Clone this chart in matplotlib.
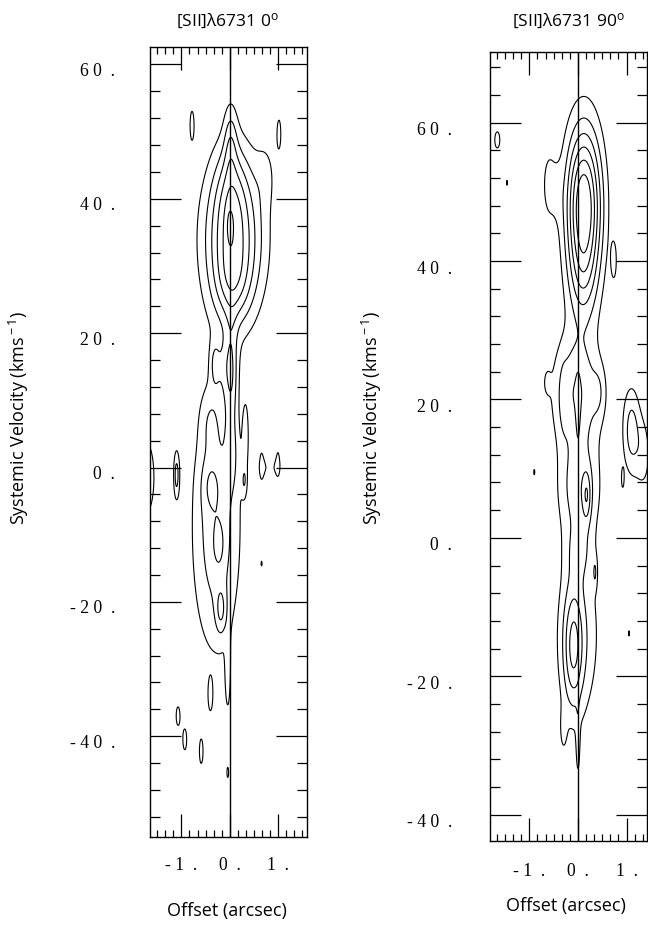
import numpy as np
import matplotlib
matplotlib.use('Agg')
import matplotlib.pyplot as plt
from matplotlib.ticker import MultipleLocator
from matplotlib import transforms

plt.rcParams['font.family'] = ['Open Sans', 'DejaVu Sans']
plt.rcParams['mathtext.fontset'] = 'custom'
plt.rcParams['mathtext.rm'] = 'Open Sans'
plt.rcParams['mathtext.it'] = 'Open Sans:italic'

# contour levels (arbitrary flux units)
levels = [1, 2, 3, 4, 5, 6]

# emission components: offset, velocity, widths, peak
pa0_x0  = [0.08, 0.05, 0.02, 0.00, 0.05, 0.75, 0.03, -0.17, -0.32, 0.05, -0.40,
           -0.28, -0.40, -0.22, -0.18, -0.04, 0.33, 0.30, 0.66, 1.00, 0.83, -1.72,
           -1.10, 1.72, 0.66, -1.07, -0.93, -0.59, -0.40, -0.04, -0.78, 1.02]
pa0_v0  = [34.0, 42.0, 49.0, 36.0, 27.0, 44.0, 14.0, 15.0, 15.5, 2.0, 7.0,
           -9.0, -2.5, -11.6, -21.3, -31.0, 5.0, -2.0, 0.5, 1.2, 0.0, -1.5,
           -1.1, 0.0, -14.3, -37.0, -40.5, -42.3, -34.0, -45.4, 51.0, 49.8]
pa0_sx  = [0.42, 0.24, 0.10, 0.05, 0.25, 0.15, 0.10, 0.12, 0.07, 0.10, 0.15,
           0.35, 0.14, 0.09, 0.08, 0.04, 0.05, 0.04, 0.05, 0.05, 0.15, 0.12,
           0.045, 0.10, 0.02, 0.05, 0.05, 0.045, 0.04, 0.025, 0.05, 0.045]
pa0_sv  = [8.0, 5.0, 4.0, 2.0, 4.0, 3.5, 5.5, 3.0, 2.5, 4.0, 3.5,
           13.0, 2.8, 2.6, 2.5, 4.0, 4.0, 1.6, 3.5, 3.5, 1.2, 4.0,
           2.6, 4.0, 0.7, 1.8, 2.0, 2.2, 2.0, 1.1, 2.6, 2.4]
pa0_amp = [5.0, 1.6, 1.6, 0.8, 1.6, 0.8, 2.4, 1.1, 1.15, 1.2, 1.0,
           2.7, 1.0, 0.8, 1.75, 1.3, 1.3, 1.3, 0.95, 0.95, 0.9, 2.2,
           2.3, 1.5, 1.05, 1.3, 1.3, 1.3, 1.3, 1.2, 1.3, 1.3]

# emission components
pa90_x0  = [0.12, 0.10, -0.60, -0.42, -0.02, 0.02, 0.02, -0.10, 0.00, 0.00, -0.30,
            0.42, -0.64, 0.18, -0.30, 0.00, 0.35, 1.10, 1.35, 0.92, -0.90, -1.66,
            -1.46, 0.74, 1.05, 1.58]
pa90_v0  = [48.0, 37.0, 51.0, 50.0, 21.0, 7.0, -2.0, -16.0, -14.0, 18.0, 20.0,
            21.0, 22.5, 6.0, -28.0, -30.0, -5.0, 15.5, 12.0, 8.5, 9.5, 57.5,
            51.3, 40.0, -13.8, -37.0]
pa90_sx  = [0.26, 0.22, 0.11, 0.08, 0.35, 0.30, 0.20, 0.14, 0.32, 0.03, 0.06,
            0.10, 0.06, 0.06, 0.06, 0.03, 0.03, 0.13, 0.12, 0.025, 0.02, 0.07,
            0.012, 0.05, 0.02, 0.08]
pa90_sv  = [8.0, 5.0, 4.0, 3.0, 6.0, 5.0, 3.0, 6.0, 9.0, 3.5, 3.5,
            2.5, 1.5, 2.5, 2.5, 3.5, 1.5, 4.5, 4.0, 1.3, 0.7, 1.6,
            0.8, 2.4, 0.8, 2.5]
pa90_amp = [7.0, 1.6, 1.3, 0.45, 3.0, 2.4, 1.2, 2.6, 2.0, 0.9, 0.7,
            1.0, 0.7, 1.8, 0.9, 1.2, 1.3, 2.4, 1.3, 1.2, 1.1, 1.3,
            1.1, 1.3, 1.1, 1.4]

vel_ticks = [-40, -20, 0, 20, 40, 60]
vel_labels = ['- 4 0  .', '- 2 0  .', '0  .', '2 0  .', '4 0  .', '6 0  .']
off_ticks = [-1, 0, 1]
off_labels = ['- 1  .', '0  .', '1  .']

X, V = np.meshgrid(np.linspace(-2.2, 2.2, 881), np.linspace(-65, 80, 1451))


def pv_map(x0, v0, sx, sv, amp):
    z = np.zeros_like(X)
    for a, b, c, d, e in zip(x0, v0, sx, sv, amp):
        z += e*np.exp(-0.5*((X-a)/c)**2 - 0.5*((V-b)/d)**2)
    return z


fig = plt.figure(figsize=(6.48, 9.25), dpi=100)

panels = [
    dict(rect=[150/648, 1-837/925, 157/648, 790/925], xlim=(-1.65, 1.60), ylim=(-55.0, 62.6),
         comps=(pa0_x0, pa0_v0, pa0_sx, pa0_sv, pa0_amp), title='[SII]λ6731 0$^{\\rm o}$',
         ylab_x=19, ylab_dx=35, ylab_dy=7, xlab_dy=29, tx=227, ox=227, oy=911),
    dict(rect=[490/648, 1-841/925, 157/648, 789/925], xlim=(-1.81, 1.42), ylim=(-43.8, 70.2),
         comps=(pa90_x0, pa90_v0, pa90_sx, pa90_sv, pa90_amp), title='[SII]λ6731 90$^{\\rm o}$',
         ylab_x=372, ylab_dx=38, ylab_dy=8, xlab_dy=30, tx=568, ox=566, oy=906),
]

for p in panels:
    ax = fig.add_axes(p['rect'])
    Z = pv_map(*p['comps'])
    ax.contour(X, V, Z, levels=levels, colors='k', linewidths=0.8)
    ax.axvline(0., color='k', lw=1.0)
    ax.set_xlim(*p['xlim'])
    ax.set_ylim(*p['ylim'])
    ax.xaxis.set_major_locator(MultipleLocator(1))
    ax.xaxis.set_minor_locator(MultipleLocator(1/6))
    ax.yaxis.set_major_locator(MultipleLocator(20))
    ax.yaxis.set_minor_locator(MultipleLocator(4))
    ax.tick_params(which='both', direction='in', top=True, right=True, color='k',
                   labelbottom=False, labelleft=False)
    ax.tick_params(axis='x', which='major', length=16.5, width=0.9)
    ax.tick_params(axis='x', which='minor', length=4.8, width=0.9)
    ax.tick_params(axis='y', which='major', length=22.5, width=0.9)
    ax.tick_params(axis='y', which='minor', length=7.2, width=0.9)
    for s in ax.spines.values():
        s.set_linewidth(1.0)

    ytr = transforms.blended_transform_factory(ax.transAxes, ax.transData) + \
        transforms.ScaledTranslation(-p['ylab_dx']/100, -p['ylab_dy']/100, fig.dpi_scale_trans)
    for v, lab in zip(vel_ticks, vel_labels):
        ax.text(0, v, lab, transform=ytr, ha='right', va='center',
                family='Liberation Serif', fontsize=12.7)
    xtr = transforms.blended_transform_factory(ax.transData, ax.transAxes) + \
        transforms.ScaledTranslation(0, -p['xlab_dy']/100, fig.dpi_scale_trans)
    for x, lab in zip(off_ticks, off_labels):
        ax.text(x, 0, lab, transform=xtr, ha='center', va='center',
                family='Liberation Serif', fontsize=12.7)

    fig.text(p['tx']/648, 1 - 21/925, p['title'], ha='center', va='center', fontsize=12.5)
    fig.text(p['ox']/648, 1 - p['oy']/925, 'Offset (arcsec)', ha='center', va='center',
             fontsize=13)
    fig.text(p['ylab_x']/648, 1 - 418/925, 'Systemic Velocity (kms$^{\\rm -1}$)', rotation=90,
             ha='center', va='center', fontsize=13)

fig.savefig('out.png', dpi=100)
